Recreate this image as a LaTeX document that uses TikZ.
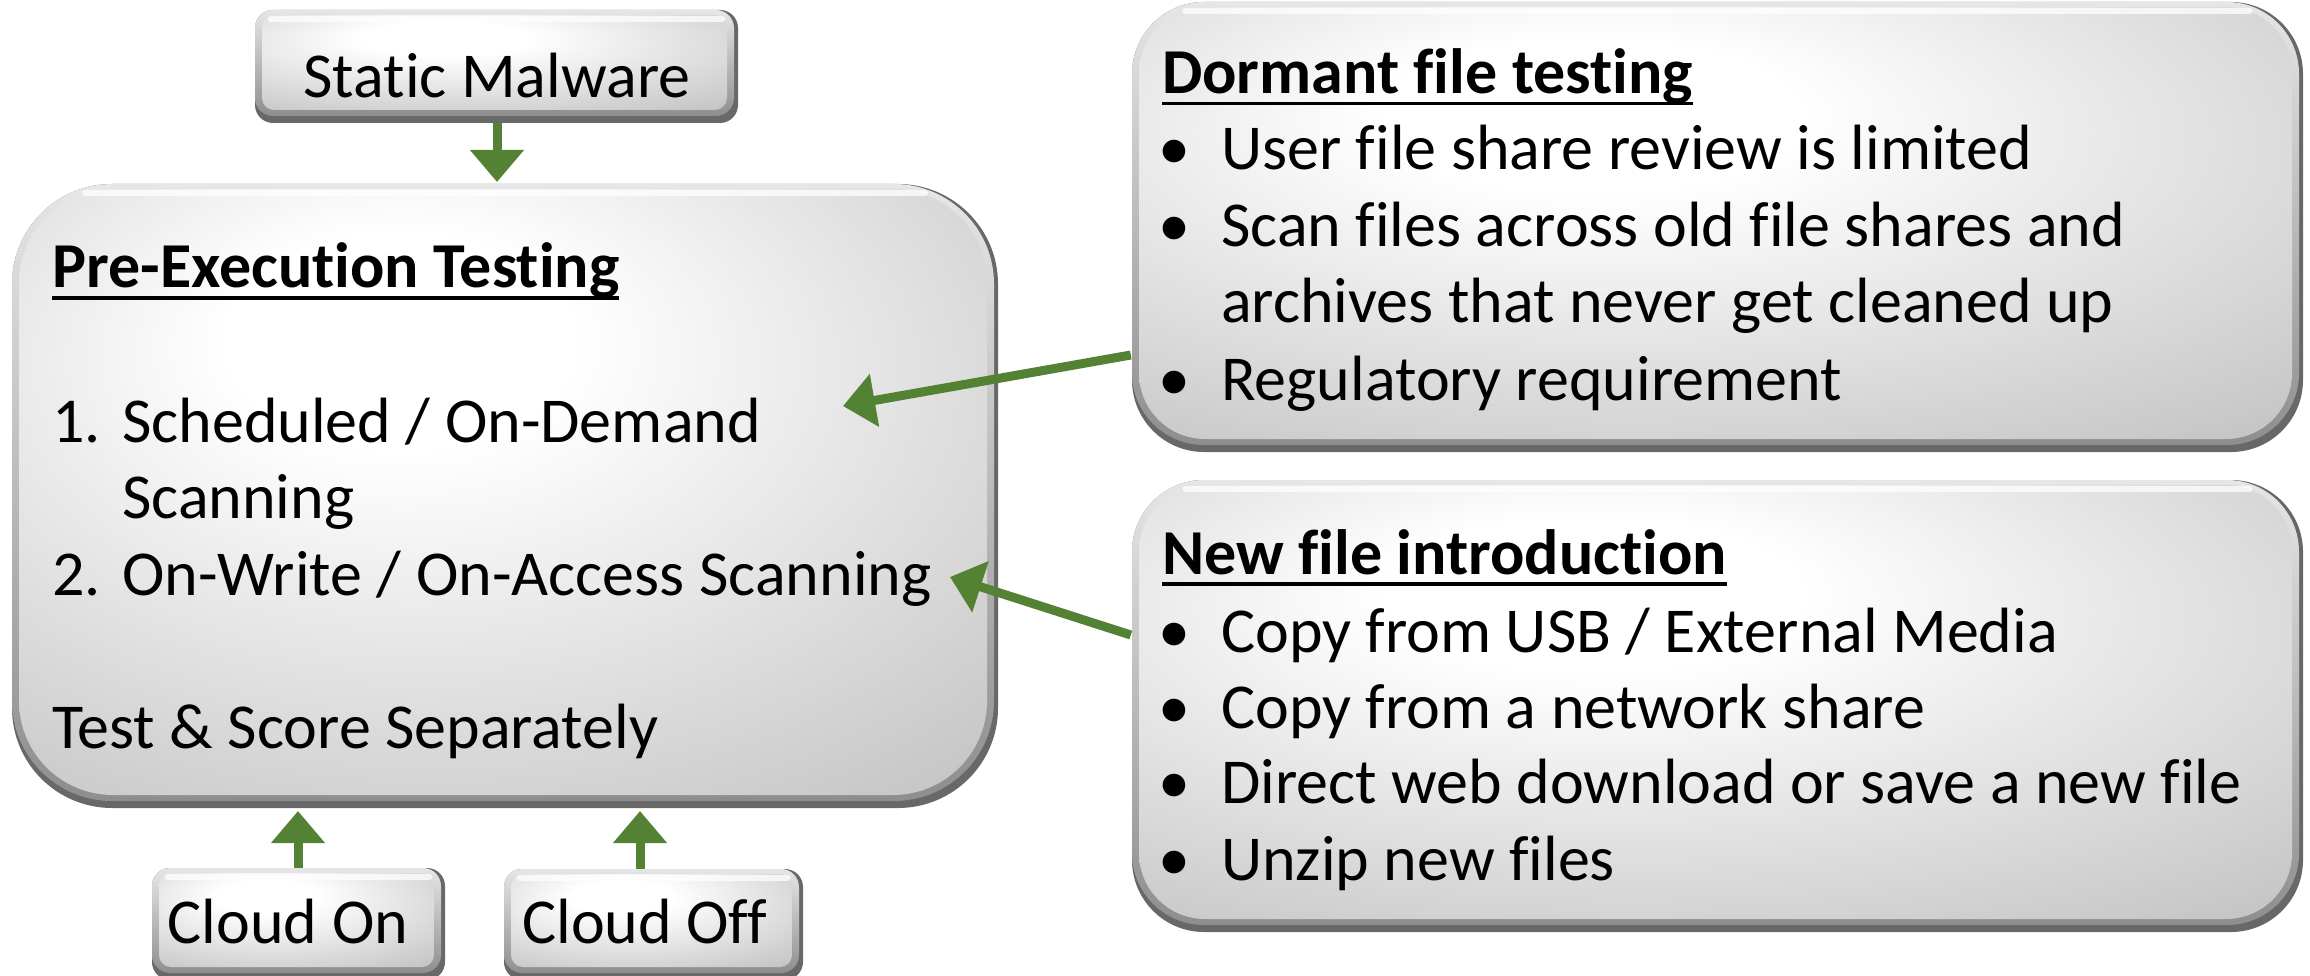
\documentclass[tikz,border=0pt]{standalone}
\usepackage{fontspec}
\setmainfont{Carlito}[Ligatures={NoCommon,NoRare,NoContextual}, Contextuals={NoAlternate}]
\usetikzlibrary{arrows.meta,fit}

\definecolor{arrowgreen}{HTML}{548235}
\definecolor{rimdark}{HTML}{686868}
\definecolor{rimtop}{HTML}{E6E6E6}
\definecolor{rimbot}{HTML}{8E8E8E}
\definecolor{facegray}{HTML}{C3C3C3}

% glossy face: bright spot a little above and left of the centre
\pgfdeclareradialshading{facelight}{\pgfpoint{-6bp}{14bp}}{%
  color(0bp)=(white); color(9bp)=(white); color(42bp)=(facegray); color(80bp)=(facegray)}

% bevelled button: name, x1, y1, x2, y2, corner radius
\newcommand\bevelbox[6]{%
  \pgfmathsetmacro\bbInner{max(#6-6,3)}%
  \fill[rimdark, rounded corners=#6pt] (#2,#3) rectangle (#4,#5);
  \shade[top color=rimtop, bottom color=rimbot, rounded corners=#6pt]
    (#2,#3) rectangle (#4-4,#5-7);
  \shade[shading=facelight, rounded corners=\bbInner pt]
    (#2+7,#3+5) rectangle (#4-11,#5-13);
  \fill[white, fill opacity=0.75, rounded corners=3pt]
    (#2+0.7*#6,#3+6) rectangle (#4-0.7*#6,#3+12);
  \node[inner sep=0pt, fit={(#2,#3) (#4,#5)}] (#1) {};
}

% bold heading with a rule under it
\newcommand\ultitle[1]{\setbox0\hbox{\bfseries #1}\rlap{\rule[-11.5pt]{\wd0}{3.5pt}}\box0}

\tikzset{
  txt/.style={anchor=base west, inner sep=0pt, font=\fontsize{64pt}{77pt}\selectfont},
  ctxt/.style={anchor=base, inner sep=0pt, font=\fontsize{64pt}{77pt}\selectfont},
  flow/.style={draw=arrowgreen, line width=9pt, -{Triangle[length=32pt,width=52pt]}}
}

\begin{document}
\begin{tikzpicture}[x=1pt, y=-1pt]
\useasboundingbox (0,0) rectangle (2310,976);

% boxes
\bevelbox{sm}{255}{10}{738}{123}{18}
\bevelbox{main}{12}{184}{998}{808}{100}
\bevelbox{con}{152}{868}{445}{980}{18}
\bevelbox{coff}{504}{869}{803}{980}{18}
\bevelbox{dorm}{1132}{2}{2303}{452}{72}
\bevelbox{newf}{1132}{480}{2303}{932}{72}

% arrow heads end inside the central box
\coordinate (smTip) at (497,182);
\coordinate (conTip) at (298,811);
\coordinate (coffTip) at (640,811);
\coordinate (dormTip) at (843,406);
\coordinate (newfTip) at (950,577);

\draw[flow] ([xshift=0.5pt]sm.south) -- (smTip);
\draw[flow] ([xshift=-0.5pt]con.north) -- (conTip);
\draw[flow] ([xshift=-13.5pt]coff.north) -- (coffTip);
\draw[flow] ([yshift=-128pt,xshift=-1pt]dorm.west) -- (dormTip);
\draw[flow] ([yshift=71pt,xshift=-1pt]newf.west) -- (newfTip);

% small labels
\node[ctxt] (smT) at (497,98) {Static Malware};
\node[ctxt] (conT) at (288,943) {Cloud On};
\node[ctxt] (coffT) at (645,943) {Cloud Off};

% central box text
\node[txt] (peT) at (52,288) {\ultitle{Pre-Execution Testing}};
\node[txt] (n1) at (52,442) {1.};
\node[txt] (i1a) at (122,442) {Scheduled / On-Demand};
\node[txt] (i1b) at (122,518) {Scanning};
\node[txt] (n2) at (52,595) {2.};
\node[txt] (i2) at (122,595) {On-Write / On-Access Scanning};
\node[txt] (tsT) at (52,748) {Test \& Score Separately};

% dormant file testing
\node[txt] (dT) at (1162,94) {\ultitle{Dormant file testing}};
\node[ctxt] (db1) at (1174,170) {\textbullet};
\node[txt] (d1) at (1221,170) {User file share review is limited};
\node[ctxt] (db2) at (1174,247) {\textbullet};
\node[txt] (d2) at (1221,247) {Scan files across old file shares and};
\node[txt] (d2b) at (1221,323) {archives that never get cleaned up};
\node[ctxt] (db3) at (1174,400) {\textbullet};
\node[txt] (d3) at (1221,400) {Regulatory requirement};

% new file introduction
\node[txt] (nT) at (1162,574) {\ultitle{New file introduction}};
\node[ctxt] (nb1) at (1174,652) {\textbullet};
\node[txt] (nf1) at (1221,652) {Copy from USB / External Media};
\node[ctxt] (nb2) at (1174,728) {\textbullet};
\node[txt] (nf2) at (1221,728) {Copy from a network share};
\node[ctxt] (nb3) at (1174,803) {\textbullet};
\node[txt] (nf3) at (1221,803) {Direct web download or save a new file};
\node[ctxt] (nb4) at (1174,880) {\textbullet};
\node[txt] (nf4) at (1221,880) {Unzip new files};
\end{tikzpicture}
\end{document}
